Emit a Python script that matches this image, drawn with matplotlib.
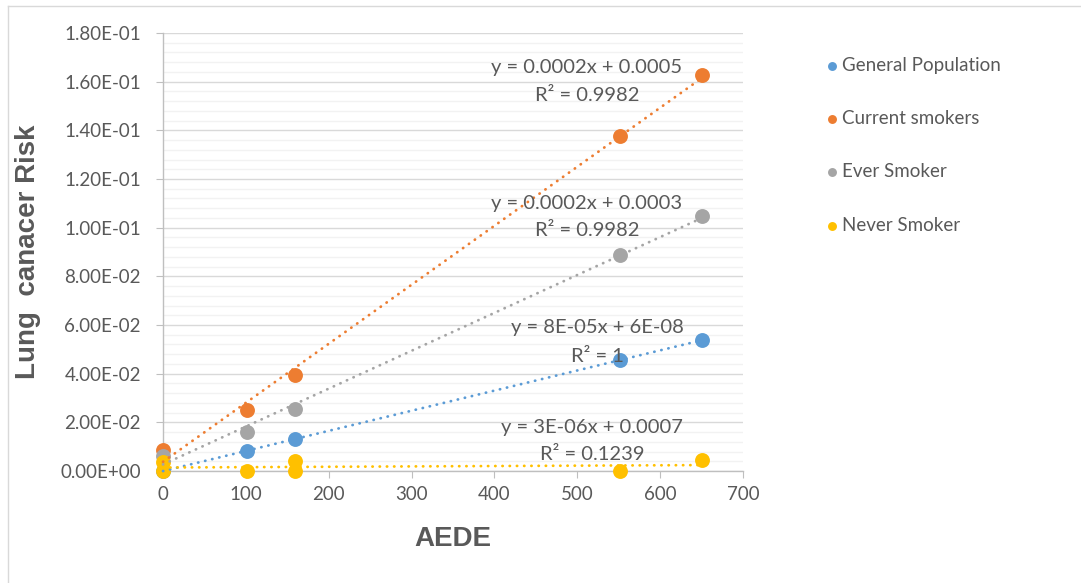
import numpy as np
import matplotlib
matplotlib.use('Agg')
import matplotlib.pyplot as plt
from matplotlib.ticker import MultipleLocator, FuncFormatter
from matplotlib.lines import Line2D

# Datos.
aede = [0, 101, 159, 552, 651]
general = [0.0, 0.0082, 0.0132, 0.0456, 0.0538]
actuales = [0.0086, 0.0251, 0.0395, 0.1377, 0.1628]
alguna_vez = [0.0062, 0.0160, 0.0255, 0.0888, 0.1048]
aede_nunca = [0, 0, 101, 159, 159, 552, 651]
nunca = [0.0038, 0.0001, 0.0000, 0.0042, 0.0000, 0.0000, 0.0044]

series = ['General Population', 'Current smokers', 'Ever Smoker', 'Never Smoker']
colores = ['#5B9BD5', '#ED7D31', '#A5A5A5', '#FFC000']
ecuaciones = ['y = 8E-05x + 6E-08', 'y = 0.0002x + 0.0005',
              'y = 0.0002x + 0.0003', 'y = 3E-06x + 0.0007']
r2 = ['R² = 1', 'R² = 0.9982', 'R² = 0.9982', 'R² = 0.1239']

W, H = 1081, 583
fig = plt.figure(figsize=(W / 100, H / 100), dpi=100)
plt.rcParams['font.family'] = ['Lato', 'DejaVu Sans']
gris = '#595959'

# Borde del área del gráfico (solo arriba e izquierda visibles).
fig.add_artist(Line2D([8 / W, 1], [1 - 6 / H, 1 - 6 / H], color='#D9D9D9', lw=1))
fig.add_artist(Line2D([8 / W, 8 / W], [0, 1 - 6 / H], color='#D9D9D9', lw=1))

ax = fig.add_axes([163 / W, 1 - 471 / H, 580 / W, 438 / H])

datos = [(aede, general), (aede, actuales), (aede, alguna_vez), (aede_nunca, nunca)]

# Puntos.
for (xs, ys), c, nombre in zip(datos, colores, series):
    ax.scatter(xs, ys, s=115, color=c, label=nombre, zorder=3, linewidths=0,
               clip_on=False)

# Líneas de tendencia.
for (xs, ys), c in zip(datos, colores):
    m, b = np.polyfit(xs, ys, 1)
    xx = np.array([min(xs), max(xs)])
    ax.plot(xx, m * xx + b, color=c, lw=2, linestyle=(0, (0.1, 2.5)),
            dash_capstyle='round', zorder=4, clip_on=False)

ax.set_xlim(0, 700)
ax.set_ylim(0, 0.18)
ax.xaxis.set_major_locator(MultipleLocator(100))
ax.yaxis.set_major_locator(MultipleLocator(0.02))
ax.yaxis.set_minor_locator(MultipleLocator(0.004))
ax.yaxis.set_major_formatter(FuncFormatter(lambda v, p: '{:.2E}'.format(v)))

ax.grid(axis='y', which='major', color='#D9D9D9', lw=1)
ax.grid(axis='y', which='minor', color='#F2F2F2', lw=1)
ax.set_axisbelow(True)

for lado in ['top', 'right']:
    ax.spines[lado].set_visible(False)
for lado in ['left', 'bottom']:
    ax.spines[lado].set_color('#BFBFBF')
    ax.spines[lado].set_linewidth(1)

ax.tick_params(axis='y', which='major', length=5, color='#BFBFBF', pad=11,
               labelsize=13.5, labelcolor=gris)
ax.tick_params(axis='y', which='minor', length=0)
ax.tick_params(axis='x', which='major', length=5, color='#BFBFBF', pad=6,
               labelsize=13.5, labelcolor=gris)

ax.set_xlabel('AEDE', fontsize=20, fontweight='bold', color=gris,
              family='Liberation Sans', labelpad=16)
ax.set_ylabel('Lung  canacer Risk', fontsize=20, fontweight='bold', color=gris,
              family='Liberation Sans', labelpad=14)

# Etiquetas de las ecuaciones (posiciones en píxeles de la figura).
pos_ec = [(597, 328, 356), (587, 68, 95), (587, 204, 231), (592, 427, 455)]
for (cx, y1, y2), e, r in zip(pos_ec, ecuaciones, r2):
    fig.text(cx / W, 1 - y1 / H, e, ha='center', va='center', fontsize=14.5, color=gris)
    fig.text(cx / W, 1 - y2 / H, r, ha='center', va='center', fontsize=14.5, color=gris)

ax.legend(loc='upper left', bbox_to_anchor=(826 / W, 1 - 57 / H),
          bbox_transform=fig.transFigure, frameon=False, fontsize=13.5,
          markerscale=0.6, handlelength=0.6, handletextpad=0.25,
          labelspacing=1.93, labelcolor=gris, borderpad=0, borderaxespad=0)

fig.savefig('out.png', dpi=100)
